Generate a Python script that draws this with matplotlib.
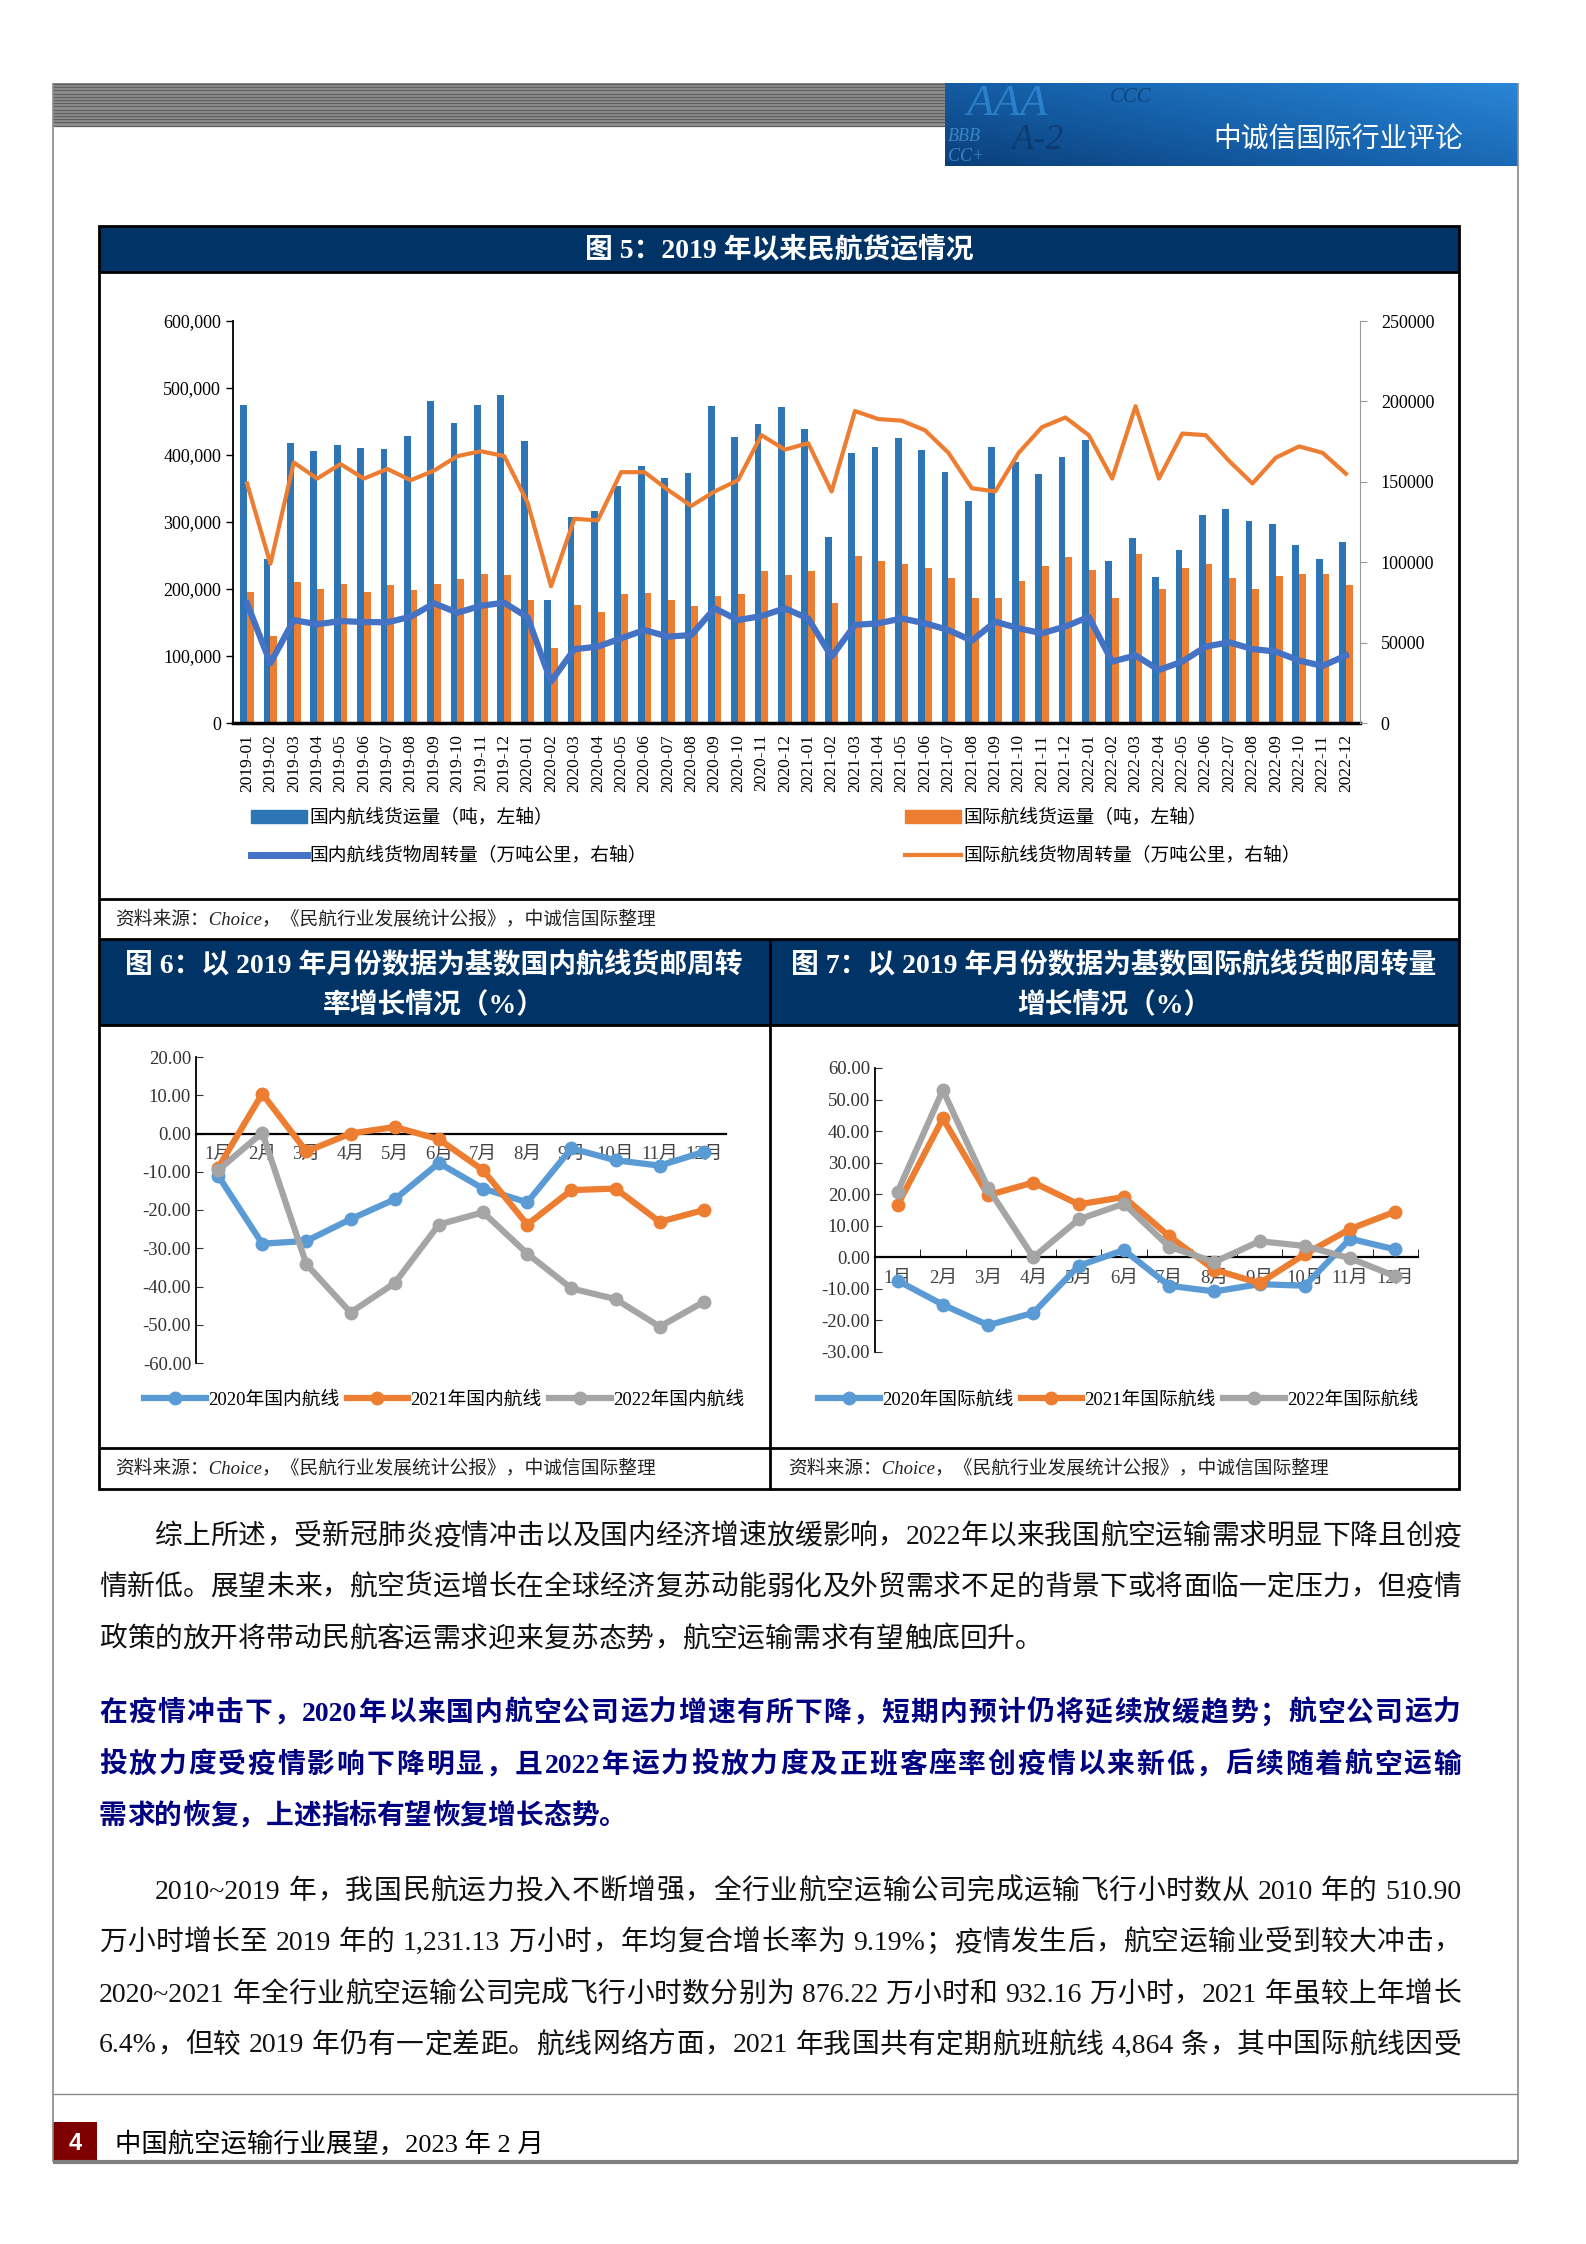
import re
import numpy as np
import matplotlib
matplotlib.use('Agg')
import matplotlib.pyplot as plt
from matplotlib.patches import Rectangle
from matplotlib.lines import Line2D

W, H = 1586, 2244
SERIF = ['Liberation Serif', 'Noto Sans CJK SC']
plt.rcParams['font.family'] = SERIF
plt.rcParams['axes.unicode_minus'] = False

# ---- 图5 data: 2019-01 .. 2022-12
months = ['%d-%02d' % (y, m) for y in (2019, 2020, 2021, 2022) for m in range(1, 13)]
dom_cargo = [475000, 245000, 418000, 406000, 415000, 410000, 409000, 429000, 481000, 448000, 475000, 490000,
             421000, 184000, 307000, 317000, 354000, 383000, 366000, 373000, 473000, 427000, 447000, 472000,
             439000, 278000, 403000, 412000, 426000, 408000, 374000, 331000, 412000, 389000, 371000, 397000,
             423000, 242000, 276000, 218000, 258000, 311000, 320000, 301000, 297000, 265000, 245000, 270000]
intl_cargo = [196000, 130000, 211000, 200000, 207000, 195000, 206000, 199000, 207000, 215000, 222000, 221000,
              183000, 112000, 176000, 166000, 193000, 194000, 184000, 175000, 190000, 192000, 227000, 221000,
              227000, 179000, 250000, 242000, 237000, 231000, 217000, 187000, 186000, 212000, 234000, 248000,
              229000, 187000, 252000, 200000, 231000, 237000, 217000, 200000, 219000, 223000, 223000, 206000]
dom_rtk = [74400, 37200, 64000, 61400, 63400, 62800, 62600, 66100, 74400, 68600, 72900, 74800,
           65700, 25800, 45900, 47500, 52700, 57800, 53700, 54700, 71300, 64000, 66500, 71300,
           65000, 41300, 61000, 62000, 65000, 62000, 57800, 51200, 63000, 58900, 55800, 60000,
           66000, 38200, 42000, 33000, 38200, 47500, 50200, 46000, 44400, 38800, 35500, 42000]
intl_rtk = [149000, 99000, 162000, 152000, 161000, 152000, 158000, 151000, 157000, 166000, 169000, 166000,
            137000, 85000, 127000, 126000, 156000, 156000, 145000, 135000, 144000, 151000, 179000, 170000,
            174000, 144000, 194000, 189000, 188000, 182000, 168000, 146000, 144000, 168000, 184000, 190000,
            179000, 152000, 197000, 152000, 180000, 179000, 163000, 149000, 165000, 172000, 168000, 155000]

# ---- 图6 / 图7 data (%)
month_cn = ['1月', '2月', '3月', '4月', '5月', '6月', '7月', '8月', '9月', '10月', '11月', '12月']
dom_2020 = [-11.0, -28.8, -28.1, -22.4, -17.2, -7.7, -14.4, -18.0, -3.9, -7.0, -8.4, -4.8]
dom_2021 = [-9.0, 10.4, -4.7, 0.0, 1.7, -1.5, -9.6, -23.8, -14.8, -14.4, -23.1, -20.0]
dom_2022 = [-9.6, 0.2, -34.2, -46.8, -39.1, -23.8, -20.6, -31.4, -40.5, -43.3, -50.5, -44.0]
intl_2020 = [-7.4, -15.0, -21.5, -17.6, -2.7, 2.3, -9.0, -10.8, -8.5, -9.0, 5.9, 2.5]
intl_2021 = [16.6, 44.0, 19.7, 23.7, 16.8, 19.1, 6.7, -3.9, -8.2, 1.0, 9.0, 14.5]
intl_2022 = [20.8, 53.0, 21.9, 0.0, 12.0, 17.0, 3.4, -1.5, 5.1, 3.6, -0.3, -6.0]

NAVY = '#003366'
BLUE_BAR = '#2E75B6'
ORANGE = '#ED7D31'
BLUE_LINE = '#4472C4'
C2020, C2021, C2022 = '#5B9BD5', '#ED7D31', '#A5A5A5'

fig = plt.figure(figsize=(W / 100, H / 100), dpi=100)
bg = fig.add_axes([0, 0, 1, 1])
bg.set_xlim(0, W)
bg.set_ylim(H, 0)
bg.axis('off')


def rect_ax(x0, y0, x1, y1):
    a = fig.add_axes([x0 / W, 1 - y1 / H, (x1 - x0) / W, (y1 - y0) / H])
    a.set_facecolor('none')
    return a


def hline(y, x0, x1, **kw):
    bg.plot([x0, x1], [y, y], solid_capstyle='butt', **kw)


def vline(x, y0, y1, **kw):
    bg.plot([x, x], [y0, y1], solid_capstyle='butt', **kw)


# ---- page header
bg.add_patch(Rectangle((53, 83), 892, 43, color='#8f8f8f', lw=0))
for yy in np.arange(84, 126, 3.2):
    hline(yy, 53, 945, color='#5f5f5f', lw=0.9)
grad = np.linspace(0, 1, 300)[None, :] * 0.6 + np.linspace(1, 0, 60)[:, None] * 0.4
bg.imshow(grad, extent=[945, 1518, 166, 83], cmap=matplotlib.colors.LinearSegmentedColormap.from_list(
    'hd', ['#0b3f7a', '#1763ad', '#2a86d6']), aspect='auto', zorder=1)
# faint rating letters in the banner
for s, x, y, fs, col in [('AAA', 966, 84, 32, '#3b9be8'), ('BBB', 948, 128, 13, '#5aaef0'),
                         ('A-2', 1012, 124, 26, '#0a2f5c'), ('CC+', 948, 148, 13, '#5aaef0'),
                         ('CCC', 1110, 88, 15, '#0a2f5c')]:
    bg.text(x, y, s, color=col, fontsize=fs, alpha=0.6, family='Liberation Serif',
            style='italic', va='top', zorder=2)
bg.text(1463, 140, '中诚信国际行业评论', color='white', fontsize=20, ha='right', va='center',
        family='Noto Sans CJK SC', zorder=3)

# page borders and footer
vline(53, 83, 2162, color='#8a8a8a', lw=1.2)
vline(1518, 83, 2162, color='#8a8a8a', lw=1.2)
hline(2094, 53, 1518, color='#8a8a8a', lw=1.0)
hline(2162, 53, 1518, color='#808080', lw=3)
bg.add_patch(Rectangle((53, 2122), 44, 40, color='#7F0000', lw=0))
bg.text(75, 2143, '4', color='white', fontsize=17, fontweight='bold', ha='center', va='center',
        family='Liberation Sans')
bg.text(115, 2144, '中国航空运输行业展望，2023 年 2 月', fontsize=19, va='center')

# ---- chart frames
bg.add_patch(Rectangle((99, 226), 1360, 46, color=NAVY, lw=0))
bg.add_patch(Rectangle((99, 939), 1360, 86, color=NAVY, lw=0))
bg.add_patch(Rectangle((99, 226), 1360, 1263, fill=False, ec='black', lw=2))
for yy in (272, 899, 939, 1025, 1448):
    hline(yy, 99, 1459, color='black', lw=2)
vline(770, 939, 1489, color='black', lw=2)

bg.text(779, 250, '图 5：2019 年以来民航货运情况', color='white', fontsize=20, fontweight='bold',
        ha='center', va='center')
bg.text(434, 965, '图 6：以 2019 年月份数据为基数国内航线货邮周转', color='white', fontsize=20,
        fontweight='bold', ha='center', va='center')
bg.text(434, 1005, '率增长情况（%）', color='white', fontsize=20, fontweight='bold', ha='center', va='center')
bg.text(1114, 965, '图 7：以 2019 年月份数据为基数国际航线货邮周转量', color='white', fontsize=20,
        fontweight='bold', ha='center', va='center')
bg.text(1114, 1005, '增长情况（%）', color='white', fontsize=20, fontweight='bold', ha='center', va='center')

src = '资料来源：Choice，《民航行业发展统计公报》，中诚信国际整理'
bg.text(115, 919, src, fontsize=13.5, style='italic', va='center', color='#222222')
bg.text(115, 1468, src, fontsize=13.5, style='italic', va='center', color='#222222')
bg.text(788, 1468, src, fontsize=13.5, style='italic', va='center', color='#222222')

# ---- 图5
ax = rect_ax(233, 321, 1360, 723)
x = np.arange(len(months))
ax.bar(x - 0.145, dom_cargo, 0.29, color=BLUE_BAR, zorder=2)
ax.bar(x + 0.145, intl_cargo, 0.29, color=ORANGE, zorder=2)
ax.set_xlim(-0.6, len(months) - 0.4)
ax.set_ylim(0, 600000)
ax.set_yticks(range(0, 600001, 100000))
ax.set_yticklabels(['{:,}'.format(v) for v in range(0, 600001, 100000)])
ax.set_xticks(x)
ax.set_xticklabels(months, rotation=90)
ax.tick_params(axis='x', length=0, pad=8, labelsize=12.5)
ax.tick_params(axis='y', direction='out', length=5, labelsize=13, width=1)
for s in ('top', 'right'):
    ax.spines[s].set_visible(False)
ax.spines['left'].set_linewidth(1.3)
ax.spines['bottom'].set_linewidth(2.5)

ax2 = ax.twinx()
ax2.plot(x, dom_rtk, color=BLUE_LINE, lw=4.5)
ax2.plot(x, intl_rtk, color=ORANGE, lw=3)
ax2.set_ylim(0, 250000)
ax2.set_yticks(range(0, 250001, 50000))
ax2.tick_params(axis='y', direction='out', length=5, labelsize=13, color='#999999', pad=10)
for s in ('top', 'left', 'bottom'):
    ax2.spines[s].set_visible(False)
ax2.spines['right'].set_color('#999999')

leg_kw = dict(frameon=False, fontsize=13.5, handlelength=3.0, handletextpad=0.1,
              labelspacing=1.1, borderpad=0, borderaxespad=0, loc='upper left')
fig.legend([Rectangle((0, 0), 1, 1, color=BLUE_BAR), Line2D([], [], color=BLUE_LINE, lw=5)],
           ['国内航线货运量（吨，左轴）', '国内航线货物周转量（万吨公里，右轴）'],
           bbox_to_anchor=(251 / W, 1 - 809 / H), **leg_kw)
fig.legend([Rectangle((0, 0), 1, 1, color=ORANGE), Line2D([], [], color=ORANGE, lw=3)],
           ['国际航线货运量（吨，左轴）', '国际航线货物周转量（万吨公里，右轴）'],
           bbox_to_anchor=(905 / W, 1 - 809 / H), **leg_kw)


# ---- 图6 / 图7
def growth_chart(rect, series, labels, ylim, step, legend_x, inner_ticks):
    a = rect_ax(*rect)
    xs = np.arange(12)
    hs = []
    for vals, col in zip(series, (C2020, C2021, C2022)):
        h, = a.plot(xs, vals, color=col, lw=4.5, marker='o', ms=9, zorder=3)
        hs.append(h)
    a.set_xlim(-0.5, 11.5)
    a.set_ylim(*ylim)
    ticks = np.arange(ylim[0], ylim[1] + 0.1, step)
    a.set_yticks(ticks)
    a.set_yticklabels(['%.2f' % v for v in ticks])
    a.spines['bottom'].set_position(('data', 0))
    a.spines['bottom'].set_linewidth(1.6)
    a.spines['left'].set_linewidth(1.3)
    for s in ('top', 'right'):
        a.spines[s].set_visible(False)
    a.set_xticks(xs)
    a.set_xticklabels(month_cn)
    a.tick_params(axis='x', length=0, pad=9, labelsize=13.5, colors='#444444')
    a.tick_params(axis='y', direction='in', length=5, labelsize=13.5, colors='#333333')
    if inner_ticks:
        a.set_xticks(np.arange(0.5, 12, 1), minor=True)
        a.tick_params(axis='x', which='minor', direction='in', length=6, color='black')
    fig.legend(hs, labels, ncol=3, loc='center', bbox_to_anchor=(legend_x / W, 1 - 1400 / H),
               frameon=False, fontsize=13.5, handlelength=3.3, handletextpad=0.1, columnspacing=0.4,
               borderaxespad=0)
    return a


growth_chart((196, 1057, 726, 1363), (dom_2020, dom_2021, dom_2022),
             ['2020年国内航线', '2021年国内航线', '2022年国内航线'], (-60, 20), 10, 444, False)
growth_chart((875, 1068, 1418, 1352), (intl_2020, intl_2021, intl_2022),
             ['2020年国际航线', '2021年国际航线', '2022年国际航线'], (-30, 60), 10, 1118, True)

# ---- body text, justified line by line
renderer = fig.canvas.get_renderer()


def put_line(s, x0, x1, y, justify=True, **kw):
    toks = re.findall(r'[0-9A-Za-z.,~%]+| |.', s)
    ts, ws = [], []
    for t in toks:
        tt = bg.text(0, y, t, va='center', ha='left', **kw)
        ts.append(tt)
        if t == ' ':
            ws.append(kw['fontsize'] * 0.25 * 100 / 72)
        else:
            ws.append(tt.get_window_extent(renderer).width)
    gap = (x1 - x0 - sum(ws)) / (len(toks) - 1) if justify else 0
    xx = x0
    for tt, w in zip(ts, ws):
        tt.set_x(xx)
        xx += w + gap


L, R = 99, 1461
IND = 155
body = dict(fontsize=20, color='#111111')
para1 = ['综上所述，受新冠肺炎疫情冲击以及国内经济增速放缓影响，2022年以来我国航空运输需求明显下降且创疫',
         '情新低。展望未来，航空货运增长在全球经济复苏动能弱化及外贸需求不足的背景下或将面临一定压力，但疫情',
         '政策的放开将带动民航客运需求迎来复苏态势，航空运输需求有望触底回升。']
para2 = ['在疫情冲击下，2020年以来国内航空公司运力增速有所下降，短期内预计仍将延续放缓趋势；航空公司运力',
         '投放力度受疫情影响下降明显，且2022年运力投放力度及正班客座率创疫情以来新低，后续随着航空运输',
         '需求的恢复，上述指标有望恢复增长态势。']
para3 = ['2010~2019 年，我国民航运力投入不断增强，全行业航空运输公司完成运输飞行小时数从 2010 年的 510.90',
         '万小时增长至 2019 年的 1,231.13 万小时，年均复合增长率为 9.19%；疫情发生后，航空运输业受到较大冲击，',
         '2020~2021 年全行业航空运输公司完成飞行小时数分别为 876.22 万小时和 932.16 万小时，2021 年虽较上年增长',
         '6.4%，但较 2019 年仍有一定差距。航线网络方面，2021 年我国共有定期航班航线 4,864 条，其中国际航线因受']

for i, (s, y) in enumerate(zip(para1, (1537, 1588, 1640))):
    put_line(s, IND if i == 0 else L, R, y, justify=i < 2, **body)
for i, (s, y) in enumerate(zip(para2, (1714, 1766, 1817))):
    put_line(s, L, R, y, justify=i < 2, fontsize=20, color='#000080', fontweight='bold')
for i, (s, y) in enumerate(zip(para3, (1892, 1943, 1995, 2046))):
    put_line(s, IND if i == 0 else L, R, y, justify=True, **body)

fig.savefig('out.png', dpi=100)
